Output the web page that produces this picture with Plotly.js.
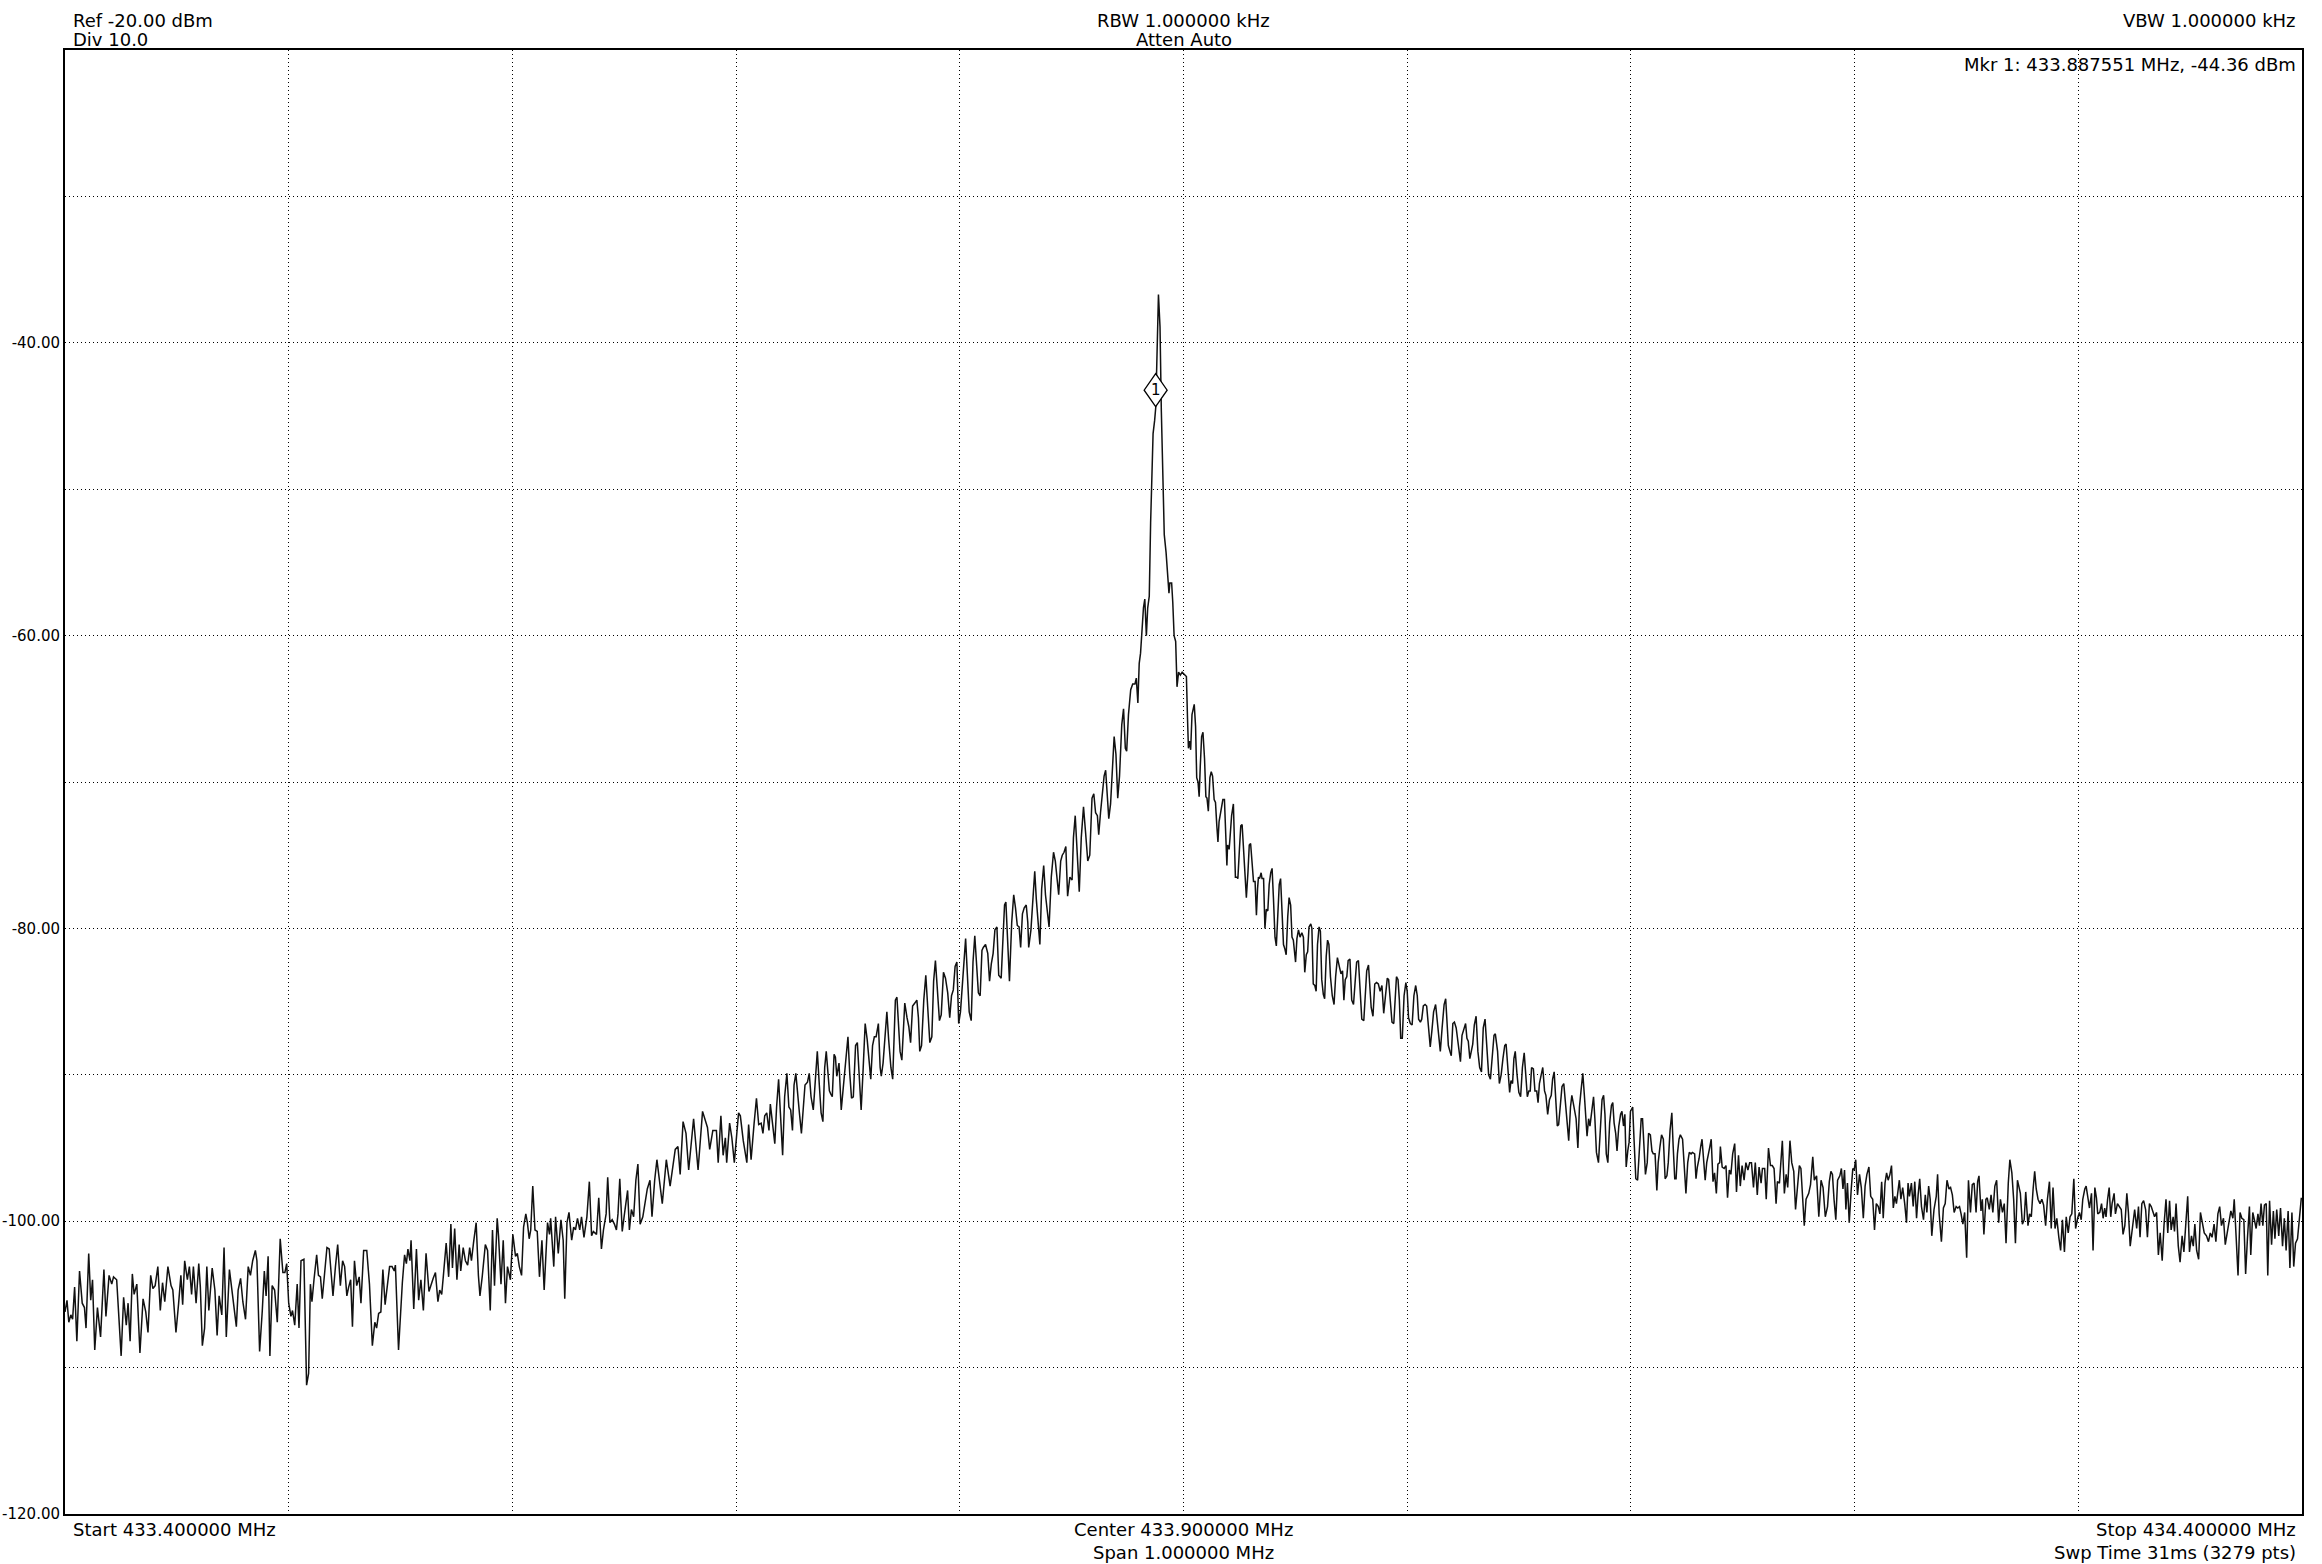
<!DOCTYPE html>
<html><head><meta charset="utf-8">
<script src="https://cdn.plot.ly/plotly-3.0.1.min.js"></script>
<style>html,body{margin:0;padding:0;background:#fff;}#chart{width:2322px;height:1564px;}</style>
</head><body><div id="chart"></div>
<script>
// Sweep settings
const startMHz = 433.4;
const stopMHz = 434.4;
const refLevel = -20;
const bottomLevel = -120;
const xGridMHz = [433.5, 433.6, 433.7, 433.8, 433.9, 434.0, 434.1, 434.2, 434.3];
const yTickVals = [-120, -110, -100, -90, -80, -70, -60, -50, -40, -30];
const yTickText = ['-120.00', '', '-100.00', '', '-80.00', '', '-60.00', '', '-40.00', ''];

// Marker
const mkrFreqMHz = 433.887551;
const mkrLevelDbm = -44.36;
const mkrLabel = '1';

// Header / footer texts
const headerLeft = ['Ref -20.00 dBm', 'Div 10.0'];
const headerCenter = ['RBW 1.000000 kHz', 'Atten Auto'];
const headerRight = ['VBW 1.000000 kHz'];
const footerLeft = ['Start 433.400000 MHz'];
const footerCenter = ['Center 433.900000 MHz', 'Span 1.000000 MHz'];
const footerRight = ['Stop 434.400000 MHz', 'Swp Time 31ms (3279 pts)'];

// Trace: [offset from start in kHz, level in dBm]
const noiseLeft = [
[0.0,-106.2],[0.9,-105.4],[1.7,-106.9],[2.6,-106.4],[3.4,-106.7],[4.3,-104.5],[5.3,-108.2],[6.5,-103.4],[7.7,-105.6],[8.7,-105.9],
[9.4,-107.3],[10.6,-102.2],[11.5,-105.4],[12.3,-104.0],[13.3,-108.8],[14.5,-105.9],[15.9,-107.9],[17.4,-103.3],[18.3,-106.5],[19.7,-103.7],
[20.9,-104.3],[21.7,-103.8],[23.1,-104.0],[25.1,-109.2],[26.2,-105.2],[27.4,-107.1],[28.2,-105.6],[29.1,-108.2],[30.1,-103.6],[30.9,-105.0],
[32.1,-104.3],[33.5,-109.0],[34.9,-105.3],[36.1,-106.2],[37.1,-107.6],[38.3,-103.7],[39.3,-104.6],[40.3,-104.4],[41.5,-103.1],[42.6,-106.1],
[43.6,-104.2],[44.6,-105.5],[46.0,-103.1],[47.4,-104.4],[48.2,-104.7],[49.6,-107.6],[50.8,-105.6],[51.8,-103.7],[52.6,-105.7],[53.5,-102.7],
[54.7,-104.0],[55.6,-103.1],[56.6,-105.0],[57.4,-103.1],[58.6,-105.6],[59.8,-102.9],[60.5,-104.5],[61.4,-108.5],[62.4,-107.3],[63.4,-103.1],
[64.3,-106.1],[65.8,-103.2],[67.0,-104.7],[68.0,-107.8],[68.9,-105.1],[70.1,-106.4],[71.1,-101.8],[72.1,-107.9],[73.5,-103.3],[74.7,-104.7],
[75.7,-106.2],[76.6,-107.2],[77.4,-104.7],[78.5,-103.9],[79.5,-105.5],[80.7,-106.7],[81.9,-103.1],[82.9,-103.7],[83.9,-102.7],[85.1,-102.0],
[85.8,-102.7],[87.0,-108.9],[88.2,-106.1],[89.1,-103.4],[89.9,-105.1],[90.8,-102.4],[91.6,-109.2],[92.6,-104.4],[93.7,-104.7],[94.9,-106.9],
[96.2,-101.2],[97.4,-103.5],[98.3,-103.5],[99.1,-102.9],[100.0,-105.6],[101.0,-106.5],[101.7,-106.1],[102.7,-107.1],[103.8,-104.3],[104.6,-107.3],
[105.5,-102.7],[106.8,-102.6],[108.0,-111.2],[108.9,-110.4],[109.7,-104.3],[110.4,-105.5],[111.3,-104.0],[112.5,-102.3],[113.3,-103.7],[114.2,-103.8],
[115.0,-105.3],[115.9,-103.7],[117.1,-101.8],[118.1,-101.9],[118.8,-103.4],[119.8,-105.1],[120.9,-103.1],[121.9,-101.6],[123.1,-104.4],[124.1,-102.7],
[125.0,-103.1],[126.0,-105.1],[126.8,-104.5],[127.7,-104.0],[128.5,-107.2],[129.4,-102.7],[130.4,-104.4],[131.5,-103.8],[132.3,-105.6],[133.5,-102.0],
[134.9,-102.0],[136.1,-104.3],[137.4,-108.5],[138.5,-106.9],[139.3,-107.3],[140.2,-106.3],[141.2,-106.2],[142.1,-103.3],[143.1,-105.7],[144.1,-104.5],
[145.1,-103.1],[146.2,-103.1],[147.2,-103.4],[147.7,-103.0],[149.1,-108.8],[150.8,-104.2],[151.8,-102.3],[152.6,-102.9],[153.3,-101.9],[154.2,-102.7],
[154.7,-101.3],[155.9,-106.0],[157.1,-101.9],[158.1,-105.4],[159.1,-104.0],[160.2,-106.1],[161.4,-102.2],[162.7,-104.8],[163.6,-104.3],[164.6,-103.9],
[165.6,-103.5],[166.7,-105.5],[167.5,-104.7],[168.4,-105.0],[169.1,-103.8],[170.4,-101.5],[171.5,-103.8],[172.5,-100.2],[173.2,-103.2],[174.2,-100.5],
[175.2,-104.0],[176.2,-101.6],[176.9,-103.4],[178.0,-101.8],[179.0,-102.7],[180.0,-103.0],[180.9,-101.8],[181.7,-102.7],[182.6,-101.5],[183.8,-100.1],
[184.8,-103.7],[185.5,-105.1],[186.5,-103.8],[187.9,-101.6],[188.9,-102.0],[190.1,-106.1],[191.1,-100.6],[192.0,-104.4],[193.2,-99.8],[193.8,-101.0],
[194.9,-104.3],[195.9,-101.3],[196.9,-105.6],[197.8,-103.1],[199.1,-104.0],[200.2,-100.9],[201.4,-102.4],[202.2,-102.2],[203.1,-103.1],[204.1,-103.7],
[205.0,-100.4],[206.0,-99.5],[206.7,-100.1],[207.5,-101.2],[208.2,-100.6],[209.1,-97.6],[210.1,-100.6],[211.1,-100.7],[212.1,-103.8],[213.2,-101.3],
[214.2,-104.7],[215.7,-100.1],[216.6,-100.9],[217.1,-99.8],[218.5,-103.1],[219.3,-99.7],[220.5,-102.2],[221.7,-99.9],[222.7,-101.3],[223.4,-105.3],
[224.4,-100.1],[225.3,-99.4],[226.5,-101.3],[227.4,-100.4],[228.2,-100.6],[229.1,-99.8],[230.1,-100.6],[230.9,-99.7],[232.0,-101.1],[233.3,-99.7],
[234.4,-97.3],[235.4,-101.0],[236.2,-100.7],[237.6,-100.9],[238.6,-98.4],[239.8,-101.9],[240.7,-100.6],[241.9,-99.5],[242.6,-97.0],[243.6,-100.1],
[244.6,-99.9],[245.6,-100.2],[246.5,-100.6],[247.2,-99.5],[248.0,-97.1],[249.1,-100.7],[250.1,-99.5],[251.5,-97.9],[252.3,-100.6],[253.2,-99.2],
[254.2,-99.7],[255.2,-97.2],[256.1,-96.1],[257.1,-100.2],[258.3,-99.7],[259.3,-98.6],[260.3,-97.8],[261.5,-97.2],[262.4,-99.7],[263.6,-97.2],
[264.6,-95.8]
];
const skirtLeft = [
[267.0,-98.8],[268.8,-95.8],[270.5,-97.6],[272.8,-95.1],[274.0,-94.9],[275.0,-96.8],[276.3,-93.2],[277.6,-94.0],[278.8,-96.5],[281.0,-93.0],[283.0,-96.5],[285.0,-92.5],
[287.2,-93.6],[288.2,-95.1],[289.6,-93.8],[291.2,-93.8],[292.0,-96.0],[293.2,-92.8],[294.2,-95.5],[295.2,-94.3],[295.8,-96.0],[297.1,-93.3],[298.1,-94.3],[299.2,-96.0],
[301.1,-92.6],[301.9,-92.8],[303.2,-94.5],[304.8,-96.0],[305.6,-93.4],[306.7,-95.8],[308.0,-93.4],[309.1,-91.6],[310.1,-93.4],[311.2,-93.3],
[312.0,-94.0],[312.8,-92.8],[313.7,-92.6],[314.7,-93.8],[315.3,-92.0],[316.3,-93.4],[317.3,-94.7],[318.1,-92.2],[319.0,-90.3],[319.8,-92.6],
[320.8,-95.5],[321.7,-91.5],[322.7,-89.9],[323.6,-92.2],[324.4,-92.4],[325.2,-93.8],[325.9,-90.7],[326.7,-89.9],[327.3,-91.1],[328.3,-92.6],
[329.2,-94.0],[330.2,-91.5],[330.8,-90.7],[331.9,-90.5],[332.7,-89.9],[333.5,-91.5],[334.5,-92.4],[335.1,-91.1],[336.3,-88.4],[337.2,-90.7],
[338.0,-92.6],[338.8,-93.2],[339.6,-89.5],[340.3,-88.4],[341.1,-89.7],[341.7,-91.1],[342.3,-91.3],[343.0,-91.5],[343.8,-88.6],[344.4,-88.8],
[345.0,-90.1],[346.0,-89.2],[347.0,-92.4],[347.6,-91.5],[348.4,-89.9],[349.2,-88.8],[350.0,-87.4],[350.8,-89.9],[351.6,-91.6],[352.4,-91.5],
[353.4,-88.0],[354.2,-87.8],[355.0,-89.9],[355.9,-92.4],[356.7,-89.9],[357.7,-86.5],[358.6,-87.6],[359.4,-89.2],[360.2,-90.3],[361.0,-88.0],
[361.8,-87.4],[362.6,-87.4],[363.6,-86.5],[364.4,-89.5],[364.9,-90.1],[365.7,-89.2],[366.5,-87.2],[367.4,-85.7],[368.2,-87.6],[369.2,-89.5],
[370.0,-90.3],[370.6,-88.0],[371.2,-84.9],[371.9,-84.7],[372.5,-86.5],[373.3,-88.4],[374.1,-89.0],[374.8,-86.9],[375.4,-85.1],[376.4,-86.1],
[377.2,-86.7],[378.0,-87.8],[378.9,-85.3],[379.9,-85.1],[380.8,-84.9],[381.5,-86.1],[382.1,-88.4],[382.9,-88.0],[383.9,-84.9],[384.8,-83.2],
[385.6,-85.7],[386.6,-87.8],[387.5,-87.4],[388.3,-83.6],[389.1,-82.2],[390.1,-84.6],[390.9,-86.3],[391.7,-85.9],[392.7,-83.0],[393.6,-83.4],
[394.6,-84.4],[395.5,-86.1],[396.3,-84.6],[397.1,-84.2],[397.9,-82.6],[398.7,-82.3],[399.5,-86.5],[400.3,-85.7],[401.1,-84.0],[401.9,-81.7],
[402.6,-80.7],[403.4,-83.2],[404.2,-85.7],[405.1,-86.3],[405.9,-82.3],[406.7,-80.5],[407.5,-82.3],[408.3,-84.4],[409.1,-84.6],[409.9,-81.5],
[410.5,-81.3],[411.5,-81.1],[412.5,-81.7],[413.3,-83.6],[414.1,-82.4],[414.9,-81.7],[415.7,-80.1],[416.6,-79.9],[417.4,-83.2],[418.5,-83.4],
[419.3,-80.7],[420.0,-78.4],[420.6,-78.2],[421.6,-81.9],[422.2,-83.6],[423.2,-79.6],[424.1,-77.7],[424.9,-78.6],[425.7,-79.8],[426.5,-79.9],
[427.2,-81.3],[428.0,-79.0],[428.8,-78.6],[429.7,-78.4],[430.4,-79.6],[430.8,-81.3],[431.8,-80.1],[432.9,-77.5],[433.5,-76.1],[434.2,-78.0],
[435.0,-79.9],[435.8,-81.1],[436.6,-77.3],[437.5,-75.7],[438.3,-77.7],[439.1,-78.8],[439.9,-79.9],[440.9,-76.5],[441.9,-74.8],[442.7,-75.4],
[443.5,-76.5],[444.2,-77.7],[445.1,-75.4],[445.8,-75.0],[446.6,-74.8],[447.4,-74.4],[448.2,-77.8],[449.2,-76.5],[450.2,-76.7],[450.8,-73.8],
[451.6,-72.3],[452.4,-75.0],[453.4,-77.5],[454.3,-73.8],[455.3,-71.7],[456.2,-73.4],[457.2,-75.4],[458.1,-75.0],[459.1,-71.1],[459.9,-70.8],
[460.7,-72.1],[461.5,-72.3],[462.1,-73.6],[462.9,-72.1],[463.7,-70.9],[464.5,-69.6],[465.2,-69.2],[465.8,-70.6],[466.6,-72.5],[467.4,-71.5],
[468.2,-68.8],[469.0,-66.9],[469.8,-68.1],[470.6,-71.1],[471.4,-69.6],[472.4,-66.1],[473.2,-65.0],[474.0,-67.7],[474.6,-67.9],[475.4,-65.4],
[476.4,-63.7],[477.3,-63.3],[478.3,-63.3],[478.9,-62.9],[479.6,-64.6],[480.2,-61.9],[480.8,-61.2],[481.5,-59.3],[482.1,-58.1],[482.7,-57.5],
[483.4,-60.0],[484.0,-58.1],[484.7,-57.3],[485.3,-52.3],[485.9,-49.3],[486.4,-46.2],[487.1,-45.3],[487.6,-44.4],[488.8,-36.7],[489.5,-38.9],
[490.1,-44.7],[490.7,-48.1],[491.4,-53.1],[492.2,-54.3],[492.8,-55.4],[493.5,-57.1],[493.9,-56.4],[494.7,-56.4],[495.2,-57.7],[495.8,-60.0],
[496.5,-60.4],[497.1,-63.5],[497.8,-62.5],[498.6,-62.7],[499.4,-62.5]
];
const skirtRight = [
[501.3,-62.8],[501.8,-65.7],[502.2,-67.7],[502.7,-67.2],[503.2,-67.8],[503.8,-65.4],[504.3,-65.0],[504.8,-64.7],[505.4,-66.2],[505.9,-69.7],
[506.5,-70.0],[507.0,-71.0],[507.5,-68.9],[508.1,-66.9],[508.7,-66.6],[509.4,-68.4],[510.0,-71.0],[510.5,-71.1],[511.1,-72.0],[511.8,-69.7],
[512.4,-69.3],[513.0,-69.6],[513.7,-71.2],[514.3,-71.4],[514.9,-73.0],[515.4,-74.1],[515.9,-72.7],[516.4,-72.3],[517.0,-71.8],[517.6,-71.2],
[518.3,-71.2],[518.9,-73.5],[519.4,-75.7],[519.7,-74.3],[520.4,-74.6],[520.8,-73.8],[521.5,-72.3],[522.3,-71.5],[522.7,-73.8],[523.2,-76.5],
[523.9,-76.5],[524.3,-76.6],[525.0,-74.6],[525.6,-73.0],[526.2,-72.9],[526.9,-74.6],[527.5,-76.8],[528.1,-77.9],[528.8,-76.2],[529.4,-74.3],
[530.0,-74.2],[530.7,-75.4],[531.3,-76.8],[532.0,-76.8],[532.6,-79.1],[533.1,-77.3],[533.5,-76.5],[534.0,-76.6],[534.7,-76.2],[535.1,-76.6],
[535.8,-76.6],[536.4,-80.0],[537.0,-78.7],[537.7,-78.8],[538.3,-77.0],[539.0,-76.2],[539.6,-75.9],[540.2,-77.9],[540.9,-80.6],[541.5,-81.2],
[542.1,-79.2],[542.8,-77.0],[543.4,-76.6],[544.0,-78.7],[544.7,-81.1],[545.3,-81.4],[545.9,-81.8],[546.6,-79.2],[547.2,-77.9],[547.9,-78.4],
[548.5,-80.6],[549.1,-80.8],[550.1,-82.3],[550.7,-80.7],[551.4,-80.1],[552.1,-80.6],[552.9,-80.3],[553.6,-80.6],[554.2,-83.0],[554.9,-81.8],
[555.5,-81.6],[556.1,-79.9],[556.9,-79.7],[557.4,-80.0],[558.0,-83.8],[558.7,-83.9],[559.3,-84.3],[559.9,-81.1],[560.6,-79.9],[561.2,-80.2],
[561.8,-83.5],[562.5,-84.5],[563.1,-84.8],[563.8,-81.9],[564.4,-80.8],[565.0,-81.1],[565.7,-83.3],[566.5,-84.6],[567.3,-85.2],[568.0,-83.3],
[568.8,-82.0],[569.8,-82.7],[570.4,-83.1],[571.1,-82.9],[571.7,-84.9],[572.3,-83.5],[573.0,-83.3],[573.6,-82.2],[574.4,-82.1],[575.2,-84.9],
[576.0,-85.2],[576.8,-83.5],[577.4,-82.3],[578.2,-82.2],[578.9,-83.8],[579.7,-86.2],[580.6,-86.3],[581.2,-84.6],[581.9,-82.9],[582.7,-82.5],
[583.3,-83.8],[583.9,-85.4],[584.7,-86.0],[585.5,-83.8],[586.3,-83.7],[587.1,-83.8],[587.9,-84.3],[588.7,-83.9],[589.5,-85.8],[590.3,-84.6],
[591.1,-83.4],[591.7,-83.5],[592.4,-84.8],[593.2,-86.4],[594.0,-86.5],[594.6,-84.8],[595.2,-83.3],[595.9,-83.5],[596.5,-84.9],[597.1,-87.5],
[597.8,-87.5],[598.6,-84.6],[599.4,-83.7],[600.0,-84.3],[600.6,-86.1],[601.4,-86.5],[602.2,-86.6],[603.0,-84.6],[603.8,-83.9],[604.5,-84.6],
[605.1,-86.2],[605.9,-86.4],[606.5,-86.2],[607.2,-85.3],[608.0,-85.2],[608.7,-85.3],[609.5,-86.5],[610.3,-88.1],[611.1,-86.9],[611.8,-85.7],
[612.7,-85.2],[613.4,-86.4],[614.0,-87.6],[614.8,-88.4],[615.6,-86.8],[616.5,-85.2],[617.2,-84.8],[617.8,-86.2],[618.4,-88.0],[619.1,-88.4],
[619.7,-88.7],[620.4,-86.5],[621.1,-86.4],[621.9,-86.8],[622.6,-87.6],[623.2,-88.1],[623.8,-89.1],[624.5,-87.3],[625.3,-86.8],[626.1,-86.5],
[626.7,-87.5],[627.3,-87.7],[628.0,-88.9],[628.6,-88.5],[629.3,-87.9],[630.0,-86.6],[630.8,-86.0],[631.6,-88.4],[632.4,-89.5],[633.2,-89.8],
[634.0,-86.8],[634.8,-86.2],[635.6,-87.9],[636.4,-90.0],[637.2,-90.3],[638.0,-88.9],[638.8,-87.3],[639.4,-87.2],[640.4,-88.4],[641.2,-90.6],
[642.0,-90.0],[642.8,-88.9],[643.6,-88.0],[644.2,-87.9],[645.2,-89.8],[645.8,-91.2],[646.4,-90.4],[647.1,-90.6],[647.7,-88.9],[648.3,-88.4],
[649.1,-90.0],[649.9,-91.2],[650.7,-91.5],[651.5,-89.5],[652.3,-88.5],[653.1,-90.7],[653.7,-91.5],[654.4,-91.1],[655.0,-91.1],[655.6,-89.5],
[656.4,-89.6],[657.1,-91.1],[657.9,-91.1],[658.5,-91.9],[659.1,-90.6],[659.9,-90.0],[660.6,-89.5],[661.4,-91.1],[662.0,-91.4],[662.8,-92.7],
[663.6,-91.7],[664.4,-91.4],[665.0,-90.3],[665.7,-89.8],[666.3,-91.7],[667.1,-93.5],[667.7,-93.4],[668.5,-91.7],[669.2,-90.8],[670.0,-90.6],
[670.6,-91.7],[671.4,-92.7],[672.2,-94.5],[673.0,-92.2],[673.6,-91.4],[674.2,-91.9],[674.9,-92.5],[675.5,-93.0],[676.3,-95.0],[677.0,-92.2],
[677.7,-91.1],[678.5,-89.9],[679.2,-91.4],[679.8,-93.1],[680.4,-94.2],[681.1,-93.0],[681.7,-93.5],[682.5,-92.5],[683.3,-91.5],[683.9,-93.0],
[684.6,-95.3],[685.5,-96.0],[686.3,-94.1],[687.1,-91.7],[687.8,-91.4],[688.4,-92.7],[689.0,-95.4],[689.7,-96.0],[690.5,-93.3],[691.3,-92.1],
[691.9,-91.9],[692.5,-93.3],[693.2,-94.0],[693.8,-95.2],[694.6,-93.5],[695.4,-92.7],[696.0,-92.5],[696.7,-93.5],[697.3,-92.7],[697.9,-96.3],
[698.6,-95.2],[699.2,-94.6],[699.8,-92.5],[700.8,-92.2],[701.4,-94.4],[702.2,-97.1],[703.0,-97.2],[703.8,-94.6],[704.6,-93.0],[705.2,-93.0],
[705.9,-94.9],[706.5,-96.8],[707.3,-96.0],[707.9,-94.0],[708.7,-94.1],[709.4,-95.2],[710.0,-95.4],[710.8,-95.4],[711.6,-97.9],[712.2,-96.0],
[713.0,-94.9],[713.7,-94.1],[714.5,-94.4],[715.3,-97.1],[716.1,-96.9],[716.7,-96.0],[717.5,-93.8],[718.3,-92.6],[718.9,-94.9],[719.6,-97.1],
[720.2,-97.1],[720.8,-95.4],[721.5,-94.4],[722.1,-94.1],[723.1,-94.4],[723.7,-95.7],[724.6,-98.1],[725.4,-96.0],[726.1,-95.3],[726.9,-95.4],
[727.5,-95.3],[728.5,-95.4],[729.1,-97.1],[729.7,-96.3],[730.5,-95.7],[731.2,-94.9],[731.8,-94.4],[732.6,-96.0],[733.2,-97.2],[733.9,-96.0],
[734.5,-95.4],[735.3,-94.9],[735.9,-94.4],[736.7,-97.3],[737.4,-96.7],[738.2,-98.1],[738.9,-96.1],[739.7,-96.0]
];
const noiseRight = [
[740.0,-94.9],[740.8,-96.3],[741.7,-96.4],[742.5,-96.2],[743.2,-98.4],[744.0,-96.5],[744.7,-96.8],[745.5,-95.4],[746.4,-94.7],[747.2,-98.0],
[748.1,-95.5],[748.9,-97.6],[749.7,-96.2],[750.6,-97.2],[751.4,-96.0],[752.3,-96.5],[753.1,-96.0],[753.9,-96.0],[754.8,-97.7],[755.6,-96.0],
[756.5,-98.2],[757.3,-96.3],[758.2,-97.4],[758.8,-96.4],[759.8,-96.4],[760.5,-98.5],[761.5,-95.0],[762.4,-96.2],[763.2,-96.2],[764.0,-96.4],
[764.9,-98.8],[765.5,-97.3],[766.4,-97.4],[766.9,-96.3],[767.7,-94.5],[768.6,-98.1],[769.4,-96.8],[770.1,-97.7],[771.1,-94.5],[771.9,-96.0],
[772.8,-96.6],[773.6,-99.2],[774.5,-97.7],[775.3,-96.2],[776.0,-96.4],[776.8,-99.0],[777.5,-100.3],[778.3,-98.5],[779.5,-98.1],[780.3,-97.5],
[781.3,-95.6],[782.0,-97.2],[783.0,-96.9],[784.0,-99.7],[785.0,-97.2],[785.9,-97.7],[786.9,-99.7],[787.9,-99.0],[788.7,-97.3],[789.4,-96.6],
[790.1,-96.8],[790.8,-98.5],[791.6,-99.9],[792.4,-97.2],[793.4,-96.9],[794.1,-96.4],[794.8,-97.8],[795.5,-96.5],[796.1,-99.2],[796.8,-97.4],
[797.6,-100.1],[798.5,-97.8],[799.2,-96.4],[799.8,-96.5],[800.5,-95.8],[801.3,-98.2],[802.2,-96.8],[803.0,-97.7],[803.9,-99.8],[804.7,-97.6],
[805.5,-96.8],[806.4,-96.3],[807.2,-98.3],[808.1,-98.5],[808.9,-100.6],[809.7,-98.8],[810.6,-99.0],[811.3,-99.5],[812.1,-97.3],[812.8,-99.8],
[813.6,-97.4],[814.3,-96.7],[815.0,-97.2],[815.8,-96.8],[816.5,-96.2],[817.3,-99.1],[818.0,-98.3],[818.7,-98.8],[819.3,-98.0],[820.0,-97.2],
[820.7,-98.5],[821.5,-97.7],[822.4,-98.8],[823.2,-100.1],[823.9,-97.4],[824.5,-98.3],[825.4,-97.4],[826.2,-99.0],[826.9,-97.3],[827.7,-99.8],
[828.4,-98.2],[829.1,-97.1],[829.9,-99.0],[830.8,-99.9],[831.6,-98.2],[832.3,-99.4],[833.1,-97.6],[833.8,-98.5],[834.5,-101.0],[835.5,-99.2],
[836.5,-98.3],[837.1,-96.8],[837.8,-99.5],[838.8,-101.4],[839.7,-99.1],[840.5,-98.8],[841.3,-97.2],[842.2,-97.8],[842.9,-97.7],[843.7,-98.2],
[844.5,-99.4],[845.4,-99.0],[846.1,-99.1],[846.9,-99.0],[847.6,-99.5],[848.4,-100.2],[849.2,-99.4],[850.1,-102.5],[850.9,-97.2],[851.8,-99.4],
[852.6,-97.5],[853.4,-97.4],[854.3,-99.4],[855.0,-97.3],[855.6,-96.9],[856.5,-99.3],[857.1,-98.5],[857.8,-100.9],[858.7,-98.5],[859.3,-98.4],
[860.2,-99.2],[861.0,-98.2],[861.8,-99.4],[862.7,-97.6],[863.5,-97.2],[864.4,-100.1],[865.2,-98.5],[866.1,-99.4],[866.9,-98.8],[867.7,-101.5],
[868.7,-97.4],[869.4,-95.8],[870.3,-96.7],[871.1,-98.5],[871.9,-101.5],[872.8,-97.2],[873.4,-97.6],[874.1,-98.1],[875.0,-100.2],[875.8,-99.9],
[876.5,-98.0],[877.5,-100.3],[878.2,-99.5],[879.0,-99.7],[879.8,-97.8],[880.5,-96.6],[881.2,-97.8],[882.0,-98.5],[882.9,-98.8],[883.7,-98.5],
[884.5,-98.9],[885.4,-100.3],[886.2,-98.5],[887.1,-97.3],[887.9,-100.5],[888.7,-97.7],[889.6,-100.5],[890.4,-99.8],[891.3,-101.1],[892.1,-102.0],
[892.9,-99.9],[893.8,-102.1],[894.6,-99.7],[895.5,-100.8],[896.3,-99.7],[897.1,-99.5],[898.0,-97.1],[898.8,-100.5],[899.7,-99.8],[900.5,-99.4],
[901.3,-99.9],[902.0,-98.5],[902.9,-97.8],[903.5,-97.6],[904.4,-98.5],[905.0,-99.1],[905.9,-98.1],[906.6,-102.0],[907.4,-97.7],[908.1,-98.4],
[908.7,-99.5],[909.6,-99.4],[910.4,-98.8],[911.1,-99.8],[911.8,-99.1],[912.4,-99.7],[913.1,-98.5],[913.8,-97.7],[914.5,-99.7],[915.1,-98.8],
[916.0,-98.1],[916.6,-99.5],[917.5,-98.8],[918.3,-99.0],[919.2,-99.2],[920.0,-100.9],[920.8,-100.3],[921.7,-98.1],[922.4,-99.4],[923.2,-101.7],
[923.9,-100.7],[924.5,-100.3],[925.2,-99.2],[926.1,-100.5],[926.9,-99.0],[927.6,-101.1],[928.4,-98.8],[929.2,-98.6],[930.1,-99.2],[930.9,-101.1],
[931.8,-98.8],[932.6,-99.0],[933.3,-99.3],[934.1,-99.7],[935.0,-99.4],[935.8,-102.3],[936.6,-100.8],[937.5,-102.7],[938.3,-100.3],[939.2,-98.5],
[940.0,-100.8],[940.8,-98.6],[941.5,-100.6],[942.4,-99.7],[943.0,-100.7],[943.7,-98.8],[944.7,-101.7],[945.5,-102.8],[946.4,-101.0],[947.2,-102.1],
[948.1,-100.1],[948.9,-98.3],[949.7,-102.1],[950.6,-101.0],[951.4,-101.7],[952.1,-100.2],[952.9,-102.0],[953.8,-102.6],[954.6,-99.4],[955.5,-100.3],
[956.3,-100.8],[957.3,-101.0],[958.2,-101.4],[959.0,-100.8],[959.8,-101.1],[960.7,-100.2],[961.5,-101.4],[962.4,-99.5],[963.2,-99.0],[964.0,-100.3],
[964.9,-99.8],[965.7,-101.6],[966.6,-100.8],[967.4,-99.9],[968.2,-99.3],[969.1,-99.8],[969.7,-98.5],[970.6,-101.2],[971.4,-103.7],[972.3,-99.4],
[973.1,-99.8],[974.0,-99.9],[974.8,-103.6],[975.6,-101.2],[976.5,-99.0],[977.1,-102.3],[978.0,-99.4],[978.7,-99.9],[979.5,-100.5],[980.3,-99.5],
[981.0,-100.3],[981.7,-98.8],[982.5,-100.3],[983.2,-98.9],[984.0,-98.8],[984.7,-103.7],[985.5,-98.6],[986.4,-101.6],[987.2,-99.3],[987.9,-101.2],
[988.7,-99.2],[989.6,-101.0],[990.4,-99.1],[991.3,-101.7],[992.1,-99.8],[992.9,-102.0],[993.8,-99.3],[994.6,-103.2],[995.5,-99.4],[996.3,-103.1],
[997.1,-101.5],[998.0,-101.2],[998.8,-99.7],[999.7,-98.4]
];

const allPts = noiseLeft.concat(skirtLeft, skirtRight, noiseRight);
const freqMHz = allPts.map(p => startMHz + p[0] / 1000);
const levelDbm = allPts.map(p => p[1]);

const FONT = 'DejaVu Sans';
const TXT = {family: FONT, size: 18, color: '#000'};

// plot area: l=65, r=20, t=50, b=50 -> 2237 x 1464
const plotW = 2237, plotH = 1464;
const px2x = px => px / plotW;
const px2y = px => px / plotH;

function ann(text, x, y, xanchor) {
  return {text: text, xref: 'paper', yref: 'paper', x: x, y: y, xanchor: xanchor, yanchor: 'middle',
          showarrow: false, font: TXT, borderpad: 0};
}
const xL = px2x(6.5), xR = 1 - px2x(5.5);
const yTop1 = 1 + px2y(30), yTop2 = 1 + px2y(10);
const yBot1 = -px2y(15.5), yBot2 = -px2y(38.5);

const annotations = [
  ann(headerLeft[0], xL, yTop1, 'left'),
  ann(headerLeft[1], xL, yTop2, 'left'),
  ann(headerCenter[0], 0.5, yTop1, 'center'),
  ann(headerCenter[1], 0.5, yTop2, 'center'),
  ann(headerRight[0], xR, yTop1, 'right'),
  ann('Mkr ' + mkrLabel + ': ' + mkrFreqMHz.toFixed(6) + ' MHz, ' + mkrLevelDbm.toFixed(2) + ' dBm', xR, 1 - px2y(15), 'right'),
  ann(footerLeft[0], xL, yBot1, 'left'),
  ann(footerCenter[0], 0.5, yBot1, 'center'),
  ann(footerCenter[1], 0.5, yBot2, 'center'),
  ann(footerRight[0], xR, yBot1, 'right'),
  ann(footerRight[1], xR, yBot2, 'right'),
  {text: mkrLabel, xref: 'x', yref: 'y', x: mkrFreqMHz, y: mkrLevelDbm, yshift: 16.5, xanchor: 'center', yanchor: 'middle',
   showarrow: false, font: {family: FONT, size: 15, color: '#000'}}
];

const shapes = [{
  type: 'path', xref: 'x', yref: 'y', xsizemode: 'pixel', ysizemode: 'pixel',
  xanchor: mkrFreqMHz, yanchor: mkrLevelDbm,
  path: 'M0,0 L11.5,16.5 L0,33 L-11.5,16.5 Z',
  fillcolor: '#ffffff', line: {color: '#000', width: 1.3}, layer: 'above'
}];

const axisCommon = {
  showgrid: true, gridcolor: '#000', gridwidth: 1, griddash: '1px,3px',
  showline: true, mirror: true, linecolor: '#000', linewidth: 2,
  zeroline: false, ticks: '', fixedrange: true
};

const layout = {
  width: 2322, height: 1564,
  margin: {l: 65, r: 20, t: 50, b: 50, pad: 0},
  paper_bgcolor: '#fff', plot_bgcolor: '#fff',
  showlegend: false, hovermode: false,
  font: {family: FONT, color: '#000'},
  xaxis: Object.assign({}, axisCommon, {range: [startMHz, stopMHz], tickvals: xGridMHz, showticklabels: false}),
  yaxis: Object.assign({}, axisCommon, {range: [bottomLevel, refLevel], tickvals: yTickVals, ticktext: yTickText,
          showticklabels: true, tickfont: {family: FONT, size: 15, color: '#000'}}),
  annotations: annotations,
  shapes: shapes
};

const trace = {
  type: 'scatter', mode: 'lines', x: freqMHz, y: levelDbm,
  line: {color: '#111', width: 1.5}, hoverinfo: 'skip'
};

Plotly.newPlot('chart', [trace], layout, {staticPlot: true, displayModeBar: false});
</script>
</body></html>
